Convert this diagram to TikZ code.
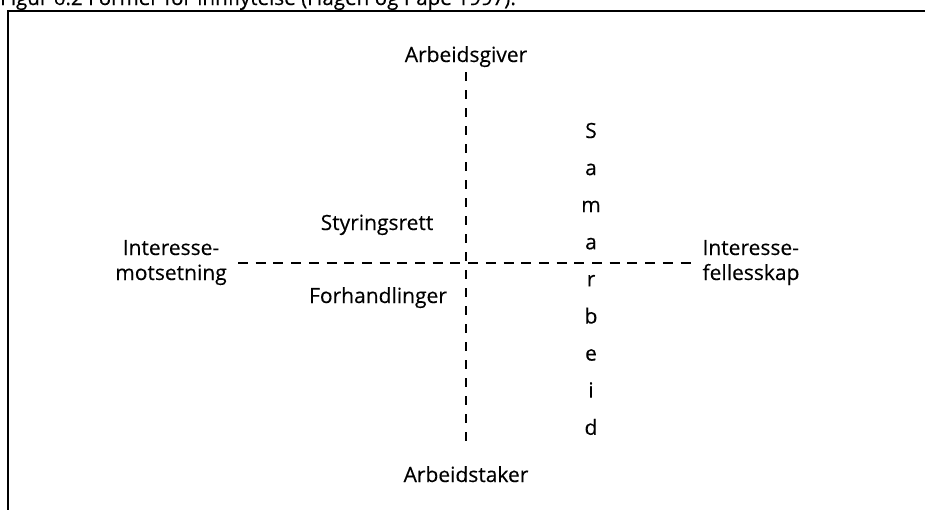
\documentclass[tikz,border=0pt]{standalone}
\usepackage{fontspec}
\setmainfont{Open Sans}[FakeBold=0.3]
\begin{document}
\begin{tikzpicture}[x=1pt,y=-1pt,
  lbl/.style={inner sep=0pt,anchor=base,font=\fontsize{21}{25}\selectfont},
  twoline/.style={lbl,align=center},
  axis/.style={line width=2pt},
  hdash/.style={axis,dash pattern=on 10pt off 7.7pt},
  vdash/.style={axis,dash pattern=on 8.5pt off 9.5pt},
  frame/.style={line width=2pt,line cap=rect}]
\useasboundingbox (0,0) rectangle (925,509);

% caption above the frame (its upper part lies outside the page)
\node[lbl,anchor=base west,font=\fontsize{20.6}{24}\selectfont] (cap) at (0,5) {Figur 6.2 Former for innflytelse (Hagen og Pape 1997).};

% frame: top and left sides, running off the page
\coordinate (ftr) at (930,11);
\coordinate (ftl) at (8,11);
\coordinate (fbl) at (8,515);
\draw[frame] (ftr) -- (ftl) -- (fbl);

% axes
\coordinate (vtop) at (466,72);
\coordinate (vbot) at (466,446);
\coordinate (hleft) at (238,263);
\coordinate (hright) at (694,263);
\draw[vdash] (vtop) -- (vbot);
\draw[hdash] (hleft) -- (hright);

% axis labels
\node[lbl] (giver) at (466,62) {Arbeidsgiver};
\node[lbl] (taker) at (466,482) {Arbeidstaker};
\node[lbl] (styr) at (377,230) {Styringsrett};
\node[lbl] (forh) at (378,303) {Forhandlinger};
\node[twoline] (mot) at (171,280) {Interesse-\\motsetning};
\node[twoline,align=left] (fell) at (751,280) {Interesse-\\fellesskap};

% vertical word
\foreach \ch [count=\i from 0] in {S,a,m,a,r,b,e,i,d}
  \node[lbl] (sam\i) at (591,138+37.1*\i) {\ch};
\end{tikzpicture}
\end{document}
